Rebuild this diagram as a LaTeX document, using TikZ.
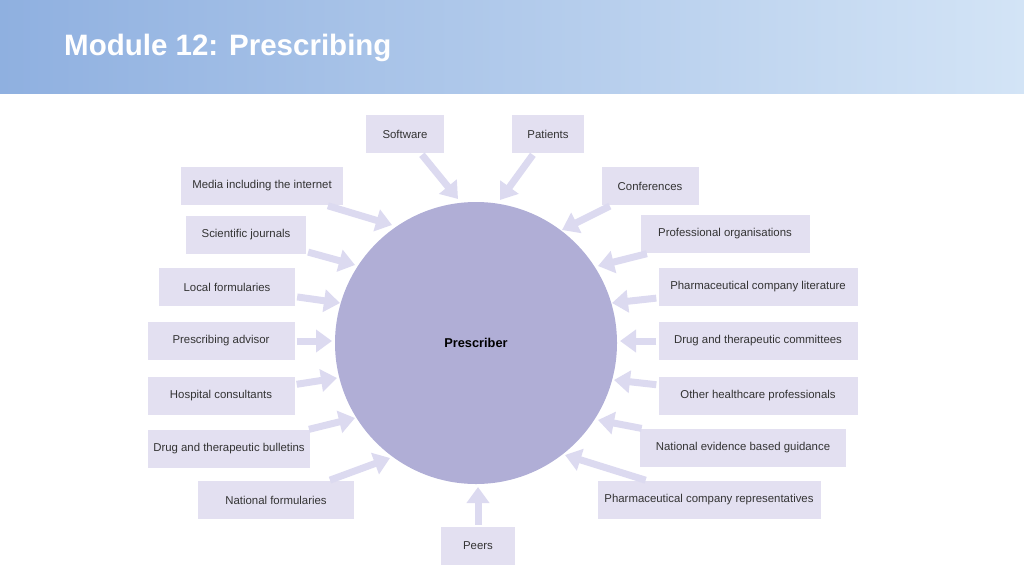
\documentclass[tikz,border=0pt]{standalone}
\usepackage{fontspec}
\setmainfont{Liberation Sans}
\usetikzlibrary{arrows.meta}
\definecolor{boxfill}{HTML}{E3E0F1}
\definecolor{arrfill}{HTML}{DCDAF0}
\definecolor{circfill}{HTML}{B0AED6}
\definecolor{headL}{HTML}{8FB0E0}
\definecolor{headR}{HTML}{D3E4F6}
\begin{document}
\begin{tikzpicture}[x=1pt,y=-1pt,
	src/.style={
		rectangle, fill=boxfill, minimum height=38pt,
		inner sep=0pt, font=\fontsize{11.4}{13}\selectfont, text=black!80
	},
	arr/.style={draw=arrfill, line width=7pt, shorten <=2pt,
		-{Triangle[length=16pt, width=22pt]}},
	]
	\useasboundingbox (0,0) rectangle (1024,576);
	% header band
	\shade[left color=headL, right color=headR] (0,0) rectangle (1024,93);
	\node[anchor=west, inner sep=0pt, text=white, font=\fontsize{29.5}{32}\selectfont\bfseries] (title) at (64,48) {Module 12: Prescribing};

	\node[circle, fill=circfill, minimum size=282pt, inner sep=0pt, font=\fontsize{12.8}{15}\selectfont\bfseries] (pr) at (476,343) {Prescriber};

	% sources
	\node[src, minimum width=78pt] (sw) at (405,134) {Software};
	\node[src, minimum width=72pt] (pa) at (548,134) {Patients};
	\node[src, minimum width=162pt] (me) at (262,186) {Media including the internet};
	\node[src, minimum width=97pt] (co) at (650,186) {Conferences};
	\node[src, minimum width=120pt] (sj) at (246,235) {Scientific journals};
	\node[src, minimum width=169pt] (po) at (725,234) {Professional organisations};
	\node[src, minimum width=136pt] (lf) at (227,287) {Local formularies};
	\node[src, minimum width=199pt] (pl) at (758,287) {Pharmaceutical company literature};
	\node[src, minimum width=147pt] (ad) at (221,341) {Prescribing advisor};
	\node[src, minimum width=199pt] (dc) at (758,341) {Drug and therapeutic committees};
	\node[src, minimum width=147pt] (hc) at (221,396) {Hospital consultants};
	\node[src, minimum width=199pt] (oh) at (758,396) {Other healthcare professionals};
	\node[src, minimum width=162pt] (db) at (229,449) {Drug and therapeutic bulletins};
	\node[src, minimum width=206pt] (ne) at (743,448) {National evidence based guidance};
	\node[src, minimum width=156pt] (nf) at (276,500) {National formularies};
	\node[src, minimum width=223pt] (rp) at (709,500) {Pharmaceutical company representatives};
	\node[src, minimum width=74pt] (pe) at (478,546) {Peers};

	% arrow tips at the circle
	\foreach \n/\x/\y in {sw/458/199, pa/500/200, me/392/225, co/562/230,
		sj/355/265, po/598/266, lf/340/303, pl/612/303, ad/332/341, dc/620/341,
		hc/337/378, oh/614/380, db/355/418, ne/598/420, nf/390/458, rp/565/455,
		pe/478/487}
	{
		\coordinate (t-\n) at (\x,\y);
		\draw[arr] (\n) -- (t-\n);
	}
\end{tikzpicture}
\end{document}
